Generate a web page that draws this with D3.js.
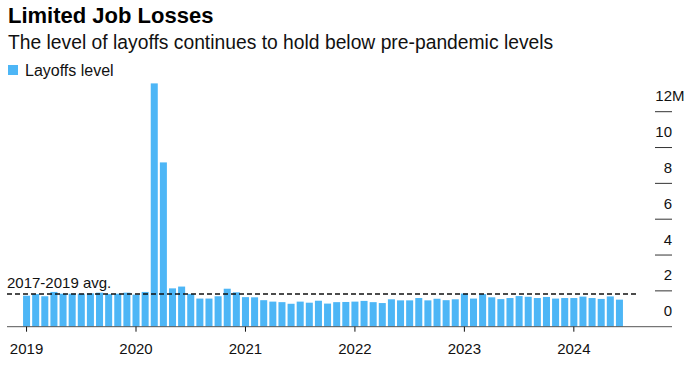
<!DOCTYPE html>
<html>
<head>
    <style>
        html,
        body {
            width: 100%;
            height: 100%;
            margin: 0;
            padding: 0;
            overflow: hidden;
            background: #fff;
        }
        text {
            font-family: "Liberation Sans", Arial, sans-serif;
        }
    </style>
</head>
<body>
<script src="https://cdn.jsdelivr.net/npm/d3@7"></script>
<script>
    const width = 700;
    const height = 365;

    // Monthly layoffs, millions (Jan 2019 - Jun 2024)
    const months = [];
    for (let y = 2019; y <= 2024; y++) {
        for (let m = 1; m <= 12; m++) {
            if (y === 2024 && m > 6) break;
            months.push(`${y}-${String(m).padStart(2, "0")}`);
        }
    }
    const layoffs = [
        1.73, 1.82, 1.70, 1.94, 1.84, 1.84, 1.84, 1.86, 1.90, 1.82, 1.84, 1.90,
        1.79, 1.94, 13.58, 9.17, 2.14, 2.24, 1.83, 1.57, 1.57, 1.70, 2.12, 1.92,
        1.65, 1.64, 1.48, 1.40, 1.37, 1.28, 1.40, 1.34, 1.45, 1.29, 1.37, 1.38,
        1.40, 1.44, 1.37, 1.32, 1.53, 1.47, 1.47, 1.60, 1.47, 1.56, 1.48, 1.53,
        1.85, 1.57, 1.82, 1.64, 1.54, 1.60, 1.71, 1.67, 1.60, 1.66, 1.57, 1.60,
        1.60, 1.68, 1.60, 1.55, 1.69, 1.51
    ];
    const avg2017to2019 = 1.82;
    const yTicks = [0, 2, 4, 6, 8, 10, 12];
    const yearTicks = ["2019-01", "2020-01", "2021-01", "2022-01", "2023-01", "2024-01"];

    const barColor = "#4db6f6";

    const svg = d3.select("body")
        .append("svg")
        .attr("width", width)
        .attr("height", height);

    // Scales
    const x = d3.scaleBand()
        .domain(months)
        .range([22, 624])
        .paddingInner(0.23)
        .paddingOuter(0.115);

    const y = d3.scaleLinear()
        .domain([0, 12])
        .range([326.7, 111.7]);

    // Title block
    svg.append("text")
        .attr("x", 8)
        .attr("y", 23)
        .style("font-size", "22px")
        .style("font-weight", "bold")
        .attr("fill", "#000")
        .text("Limited Job Losses");

    svg.append("text")
        .attr("x", 8)
        .attr("y", 49)
        .style("font-size", "19.3px")
        .attr("fill", "#111")
        .text("The level of layoffs continues to hold below pre-pandemic levels");

    // Legend
    svg.append("rect")
        .attr("x", 8)
        .attr("y", 65)
        .attr("width", 10)
        .attr("height", 10)
        .attr("fill", barColor);

    svg.append("text")
        .attr("x", 25)
        .attr("y", 76)
        .style("font-size", "16px")
        .attr("fill", "#111")
        .text("Layoffs level");

    // Y axis: short tick lines with labels sitting on top, on the right
    const yAxis = svg.append("g").attr("class", "y-axis");
    yAxis.selectAll("line")
        .data(yTicks.filter(d => d > 0))
        .join("line")
        .attr("x1", 655)
        .attr("x2", 672)
        .attr("y1", d => y(d))
        .attr("y2", d => y(d))
        .attr("stroke", "#333")
        .attr("stroke-width", 1);

    yAxis.selectAll("text")
        .data(yTicks)
        .join("text")
        .attr("x", 672)
        .attr("y", d => y(d) - 10.5)
        .attr("text-anchor", "end")
        .style("font-size", "15px")
        .attr("fill", "#111")
        .text(d => d);

    // "M" suffix hangs past the right edge of the top label
    svg.append("text")
        .attr("x", 672)
        .attr("y", y(12) - 10.5)
        .style("font-size", "15px")
        .attr("fill", "#111")
        .text("M");

    // Bars
    svg.append("g")
        .selectAll("rect")
        .data(months.map((m, i) => ({ month: m, value: layoffs[i] })))
        .join("rect")
        .attr("x", d => x(d.month))
        .attr("width", x.bandwidth())
        .attr("y", d => y(d.value))
        .attr("height", d => y(0) - y(d.value))
        .attr("fill", barColor);

    // Baseline + year ticks
    svg.append("line")
        .attr("x1", 7)
        .attr("x2", 672)
        .attr("y1", y(0))
        .attr("y2", y(0))
        .attr("stroke", "#555")
        .attr("stroke-width", 1);

    const xAxis = svg.append("g").attr("class", "x-axis");
    xAxis.selectAll("line")
        .data(yearTicks)
        .join("line")
        .attr("x1", d => x(d) + x.bandwidth() / 2)
        .attr("x2", d => x(d) + x.bandwidth() / 2)
        .attr("y1", y(0))
        .attr("y2", y(0) + 5)
        .attr("stroke", "#111")
        .attr("stroke-width", 1);

    xAxis.selectAll("text")
        .data(yearTicks)
        .join("text")
        .attr("x", d => x(d) + x.bandwidth() / 2)
        .attr("y", 354)
        .attr("text-anchor", "middle")
        .style("font-size", "15px")
        .attr("fill", "#111")
        .text(d => d.slice(0, 4));

    // 2017-2019 average reference line
    svg.append("line")
        .attr("x1", 7)
        .attr("x2", 638)
        .attr("y1", y(avg2017to2019))
        .attr("y2", y(avg2017to2019))
        .attr("stroke", "#111")
        .attr("stroke-width", 1.5)
        .attr("stroke-dasharray", "5,3");

    svg.append("text")
        .attr("x", 7)
        .attr("y", y(avg2017to2019) - 6)
        .style("font-size", "15px")
        .attr("fill", "#111")
        .text("2017-2019 avg.");
</script>
</body>
</html>
